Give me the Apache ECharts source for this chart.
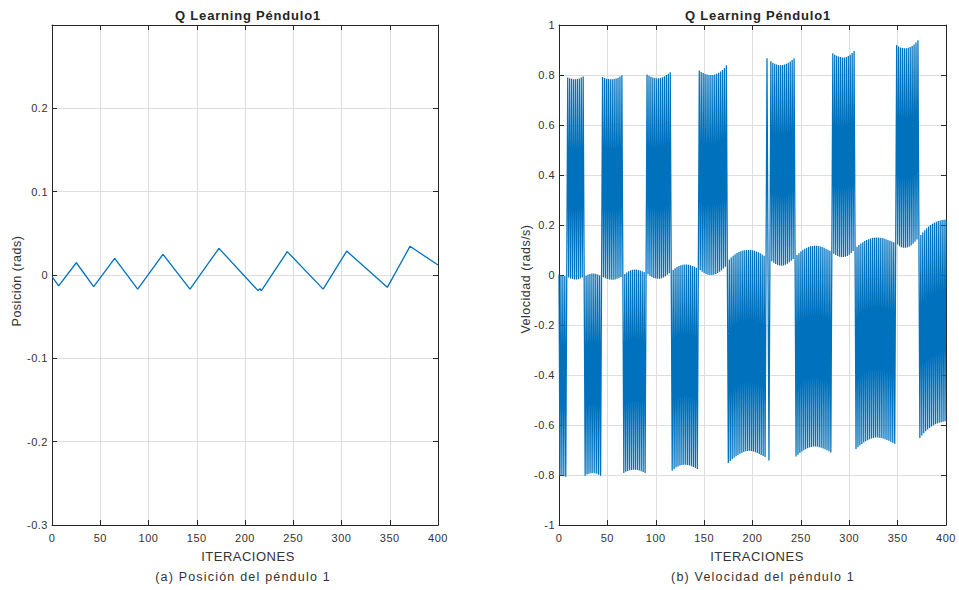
<!DOCTYPE html>
<html>
<head>
<meta charset="utf-8">
<script src="https://cdn.jsdelivr.net/npm/echarts@6/dist/echarts.min.js"></script>
<style>
html,body{margin:0;padding:0;background:#fff;}
#chart{width:959px;height:590px;}
#chart text{letter-spacing:0.5px;}
</style>
</head>
<body>
<div id="chart"></div>
<script>
// ---- Data ----
const xTicks = [0, 50, 100, 150, 200, 250, 300, 350, 400];
const posTicks = [-0.3, -0.2, -0.1, 0, 0.1, 0.2];
const velTicks = [-1, -0.8, -0.6, -0.4, -0.2, 0, 0.2, 0.4, 0.6, 0.8, 1];

// Position of pendulum 1: vertices of the zig-zag (iteration, rads)
const posIter = [0, 6.9, 25.2, 43.2, 65, 88.8, 115, 143, 173, 213.5, 215.5, 217, 243.8, 281, 305.4, 347.5, 371, 400];
const posVal  = [-0.002, -0.013, 0.0147, -0.014, 0.020, -0.017, 0.0248, -0.017, 0.032, -0.0188, -0.0165, -0.0188, 0.028, -0.017, 0.0287, -0.0148, 0.0344, 0.012];

// Velocity of pendulum 1, one value per iteration 0..400 (rads/s)
const velocity = [
  0.002,-0.803, 0.000,-0.804,-0.002,-0.805,-0.004,-0.807,-0.006, 0.790,
 -0.010, 0.787,-0.014, 0.785,-0.016, 0.783,-0.018, 0.783,-0.018, 0.784,
 -0.017, 0.786,-0.014, 0.790,-0.010, 0.794,-0.007,-0.803,-0.003,-0.798,
  0.001,-0.795, 0.004,-0.793, 0.006,-0.792, 0.006,-0.793, 0.005,-0.795,
  0.002,-0.799,-0.002,-0.803,-0.005, 0.792,-0.009, 0.788,-0.013, 0.785,
 -0.016, 0.784,-0.018, 0.783,-0.019, 0.783,-0.019, 0.784,-0.018, 0.786,
 -0.015, 0.789,-0.012, 0.794,-0.008, 0.799,-0.004,-0.792, 0.004,-0.787,
  0.010,-0.784, 0.015,-0.781, 0.019,-0.780, 0.021,-0.779, 0.022,-0.779,
  0.022,-0.780, 0.020,-0.782, 0.018,-0.785, 0.015,-0.788, 0.012,-0.792,
  0.008, 0.802, 0.003, 0.797,-0.003, 0.793,-0.008, 0.790,-0.012, 0.788,
 -0.014, 0.787,-0.015, 0.787,-0.015, 0.788,-0.013, 0.791,-0.010, 0.795,
 -0.005, 0.800, 0.001, 0.805, 0.007, 0.811, 0.014,-0.783, 0.020,-0.776,
  0.027,-0.770, 0.032,-0.766, 0.036,-0.762, 0.039,-0.760, 0.041,-0.759,
  0.042,-0.759, 0.042,-0.760, 0.041,-0.762, 0.039,-0.765, 0.036,-0.768,
  0.033,-0.772, 0.029,-0.776, 0.025, 0.818, 0.020, 0.812, 0.013, 0.808,
  0.008, 0.804, 0.004, 0.802, 0.001, 0.800, 0.000, 0.800, 0.000, 0.800,
  0.001, 0.802, 0.004, 0.805, 0.008, 0.809, 0.013, 0.814, 0.019, 0.820,
  0.026, 0.828, 0.033, 0.839, 0.040,-0.752, 0.062,-0.744, 0.070,-0.737,
  0.077,-0.731, 0.083,-0.725, 0.088,-0.720, 0.092,-0.715, 0.095,-0.711,
  0.098,-0.708, 0.099,-0.705, 0.100,-0.704, 0.100,-0.703, 0.100,-0.704,
  0.099,-0.706, 0.097,-0.709, 0.094,-0.712, 0.091,-0.716, 0.087,-0.720,
  0.082,-0.724, 0.077,-0.728, 0.072, 0.867, 0.068,-0.742, 0.062, 0.855,
  0.055, 0.849, 0.049, 0.845, 0.044, 0.842, 0.040, 0.840, 0.038, 0.839,
  0.037, 0.840, 0.038, 0.842, 0.041, 0.845, 0.045, 0.849, 0.051, 0.854,
  0.057, 0.860, 0.064, 0.866, 0.071,-0.726, 0.080,-0.719, 0.087,-0.712,
  0.094,-0.706, 0.100,-0.701, 0.105,-0.697, 0.109,-0.693, 0.112,-0.690,
  0.115,-0.688, 0.116,-0.686, 0.117,-0.686, 0.117,-0.687, 0.116,-0.689,
  0.114,-0.691, 0.112,-0.694, 0.109,-0.697, 0.105,-0.701, 0.101,-0.705,
  0.097,-0.710, 0.092, 0.887, 0.085, 0.881, 0.080, 0.877, 0.076, 0.874,
  0.073, 0.872, 0.072, 0.870, 0.072, 0.870, 0.073, 0.872, 0.076, 0.876,
  0.081, 0.881, 0.088, 0.888, 0.096, 0.896, 0.105,-0.696, 0.113,-0.689,
  0.120,-0.682, 0.126,-0.676, 0.131,-0.670, 0.136,-0.665, 0.140,-0.661,
  0.143,-0.657, 0.146,-0.654, 0.148,-0.652, 0.149,-0.650, 0.150,-0.650,
  0.150,-0.651, 0.149,-0.652, 0.148,-0.654, 0.146,-0.657, 0.143,-0.660,
  0.140,-0.663, 0.137,-0.667, 0.134,-0.671, 0.131,-0.675, 0.128, 0.920,
  0.122, 0.914, 0.115, 0.910, 0.111, 0.908, 0.109, 0.907, 0.109, 0.907,
  0.110, 0.909, 0.113, 0.912, 0.118, 0.916, 0.125, 0.922, 0.133, 0.930,
  0.142, 0.939, 0.152,-0.652, 0.160,-0.642, 0.170,-0.633, 0.179,-0.625,
  0.187,-0.618, 0.194,-0.612, 0.200,-0.606, 0.205,-0.601, 0.209,-0.597,
  0.213,-0.594, 0.216,-0.591, 0.218,-0.589, 0.220,-0.587, 0.221,-0.585,
  0.222
];

const titleText = 'Q Learning Péndulo1';
const xLabelText = 'ITERACIONES';
const yLabelPos = 'Posición (rads)';
const yLabelVel = 'Velocidad (rads/s)';
const captionA = '(a) Posición del péndulo 1';
const captionB = '(b) Velocidad del péndulo 1';

// ---- Styling ----
const FONT = '"Liberation Sans", Arial, Helvetica, sans-serif';
const AX = '#262626';
const GRIDC = '#dedede';
const LINE = '#0072BD';

function xAx(gi, pos, showLabel) {
  return {
    type: 'value', gridIndex: gi, position: pos,
    min: xTicks[0], max: xTicks[xTicks.length - 1], interval: xTicks[1] - xTicks[0],
    axisLine: { show: true, onZero: false, lineStyle: { color: AX, width: 1 } },
    axisTick: { show: true, inside: true, length: 5, lineStyle: { color: AX } },
    axisLabel: { show: showLabel, color: '#333', fontFamily: FONT, fontSize: 11, margin: 7 },
    splitLine: { show: showLabel, lineStyle: { color: GRIDC, width: 1 } }
  };
}
function yAx(gi, pos, ticks, showLabel, hideMax) {
  return {
    type: 'value', gridIndex: gi, position: pos,
    min: ticks[0], max: hideMax ? 0.3 : ticks[ticks.length - 1], interval: +(ticks[1] - ticks[0]).toFixed(6),
    axisLine: { show: true, onZero: false, lineStyle: { color: AX, width: 1 } },
    axisTick: { show: true, inside: true, length: 5, lineStyle: { color: AX } },
    axisLabel: { show: showLabel, color: '#333', fontFamily: FONT, fontSize: 11, margin: 4, showMaxLabel: !hideMax,
                 formatter: v => String(+v.toFixed(4)) },
    splitLine: { show: showLabel, lineStyle: { color: GRIDC, width: 1 } }
  };
}

const chart = echarts.init(document.getElementById('chart'), null, { renderer: 'svg' });

function txt(x, y, text, font, fill) {
  return {
    type: 'text', x: x, y: y, silent: true,
    style: { text: text, fill: fill || AX, font: font, textAlign: 'center', textVerticalAlign: 'middle' }
  };
}

const option = {
  animation: false,
  backgroundColor: '#fff',
  grid: [
    { left: 52, top: 25, width: 386, height: 500 },
    { left: 559, top: 25, width: 387, height: 500 }
  ],
  xAxis: [xAx(0, 'bottom', true), xAx(0, 'top', false), xAx(1, 'bottom', true), xAx(1, 'top', false)],
  yAxis: [yAx(0, 'left', posTicks, true, true), yAx(0, 'right', posTicks, false, true),
          yAx(1, 'left', velTicks, true, false), yAx(1, 'right', velTicks, false, false)],
  series: [
    { type: 'line', xAxisIndex: 0, yAxisIndex: 0, showSymbol: false, symbol: 'none',
      lineStyle: { color: LINE, width: 1.3 },
      data: posIter.map((x, i) => [x, posVal[i]]) },
    { type: 'line', xAxisIndex: 2, yAxisIndex: 2, showSymbol: false, symbol: 'none',
      lineStyle: { color: LINE, width: 1.25 },
      data: velocity.map((v, i) => [i, v]) }
  ],
  graphic: [
    txt(248, 15, titleText, 'bold 13px ' + FONT),
    txt(758, 15, titleText, 'bold 13px ' + FONT),
    txt(248, 556, xLabelText, '13px ' + FONT, '#333'),
    txt(757, 556, xLabelText, '13px ' + FONT, '#333'),
    txt(243, 577, captionA, '12.5px ' + FONT, '#333'),
    txt(763, 577, captionB, '12.5px ' + FONT, '#333'),
    { type: 'text', x: 17, y: 281, rotation: Math.PI / 2, silent: true,
      style: { text: yLabelPos, fill: '#333', font: '12.5px ' + FONT, textAlign: 'center', textVerticalAlign: 'middle' } },
    { type: 'text', x: 526, y: 279, rotation: Math.PI / 2, silent: true,
      style: { text: yLabelVel, fill: '#333', font: '12.5px ' + FONT, textAlign: 'center', textVerticalAlign: 'middle' } }
  ]
};
chart.setOption(option);

// MATLAB-style spaced lettering for the captions and titles
document.querySelectorAll('#chart text').forEach(function (t) {
  if (t.textContent === captionA || t.textContent === captionB) t.style.letterSpacing = '1.2px';
  if (t.textContent === titleText) t.style.letterSpacing = '0.8px';
});
</script>
</body>
</html>
